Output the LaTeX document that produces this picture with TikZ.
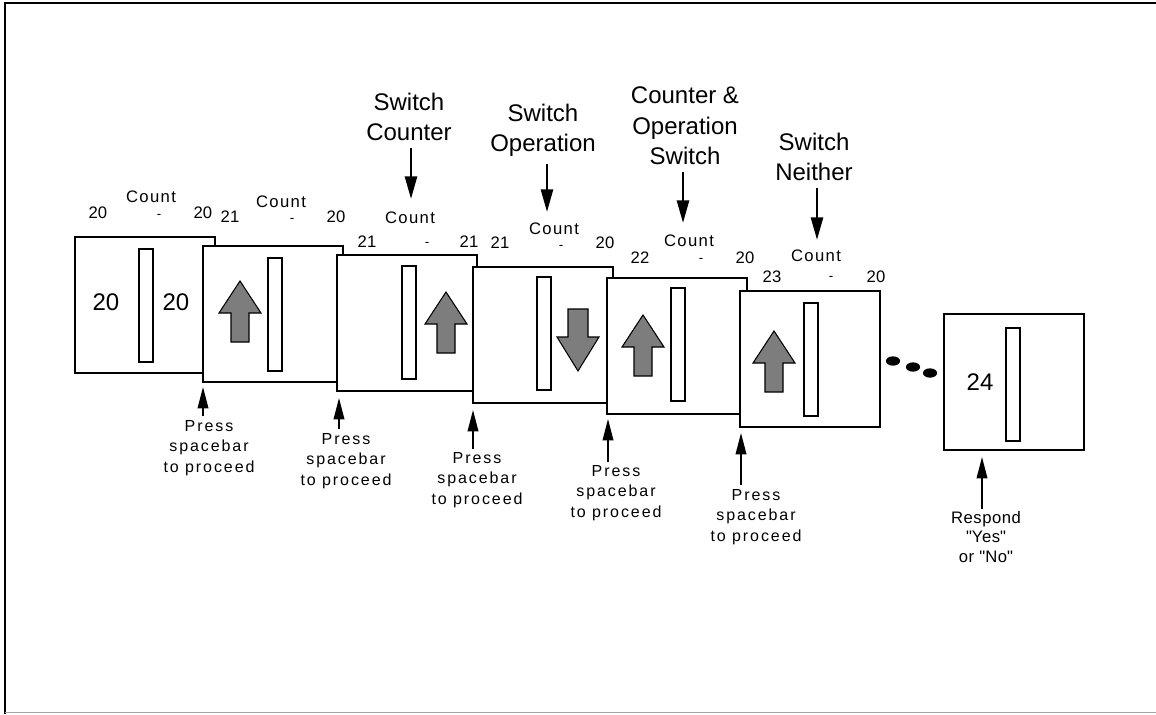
\documentclass[tikz,border=0pt]{standalone}
\usepackage{fontspec}
\setmainfont{Liberation Sans}
\newfontfamily\qfont[Ligatures=TeXOff]{Liberation Sans}
\usetikzlibrary{arrows.meta}
\definecolor{arrgray}{RGB}{125,125,125}
\newcommand{\sq}{{\qfont\symbol{34}}}
\begin{document}
\begin{tikzpicture}[x=0.75pt,y=-0.75pt,
  screen/.style={draw, fill=white, line width=1.2pt, minimum width=105pt, minimum height=102pt, anchor=north west, inner sep=0pt, outer sep=0pt},
  slot/.style={draw, fill=white, line width=1pt, minimum width=10.5pt, minimum height=84.75pt, anchor=north west, inner sep=0pt, outer sep=0pt},
  bignum/.style={font=\fontsize{18pt}{20pt}\selectfont, inner sep=0pt},
  cnt/.style={font=\fontsize{12.5pt}{14pt}\selectfont\addfontfeature{LetterSpace=8}, inner sep=0pt},
  smallnum/.style={font=\fontsize{12.5pt}{14pt}\selectfont, inner sep=0pt},
  dashlbl/.style={font=\fontsize{10pt}{12pt}\selectfont, inner sep=0pt},
  toplabel/.style={font=\fontsize{18pt}{23pt}\selectfont, align=center, inner sep=0pt, anchor=north},
  presslabel/.style={font=\fontsize{12pt}{15.4pt}\selectfont\addfontfeature{LetterSpace=12}, align=center, inner sep=0pt, anchor=north},
  resplabel/.style={font=\fontsize{12.5pt}{14.5pt}\selectfont\addfontfeature{LetterSpace=3}, align=center, inner sep=0pt, anchor=north},
  downarr/.style={line width=2pt, -{Triangle[length=17pt,width=9pt]}},
  uparr/.style={line width=1.1pt, -{Triangle[length=16pt,width=8pt]}},
  blockfill/.style={draw=black, fill=arrgray, line width=0.8pt},
  blockup/.pic={\draw[blockfill] (0,0) -- (21,32) -- (9,32) -- (9,61) -- (-9,61) -- (-9,32) -- (-21,32) -- cycle;},
  blockdown/.pic={\draw[blockfill] (-10,0) -- (10,0) -- (10,28) -- (21,28) -- (0,62) -- (-21,28) -- (-10,28) -- cycle;}
]
\useasboundingbox[fill=white] (0,0) rectangle (1156,714);
\draw[line width=1.5pt] (5,714) -- (5,3) -- (1156,3);
\draw[black!35, line width=1pt] (5,712.5) -- (1156,712.5);

% screen 1
\node[screen] (s1) at (75,237) {};
\node[slot] (b1) at (139,249) {};
\node[bignum] (n1a) at (106,302) {20};
\node[bignum] (n1b) at (176,302) {20};
% screen 2
\node[screen] (s2) at (203,246) {};
\node[slot] (b2) at (268,258) {};
\pic at (240,281) {blockup};
% screen 3
\node[screen] (s3) at (337,255) {};
\node[slot] (b3) at (402,266) {};
\pic at (446,292) {blockup};
% screen 4
\node[screen] (s4) at (473,267) {};
\node[slot] (b4) at (537,277) {};
\pic at (578,309) {blockdown};
% screen 5
\node[screen] (s5) at (607,278) {};
\node[slot] (b5) at (671,288) {};
\pic at (643,315) {blockup};
% screen 6
\node[screen] (s6) at (740,291) {};
\node[slot] (b6) at (804,303) {};
\pic at (774,331) {blockup};
% screen 7
\node[screen] (s7) at (944,314) {};
\node[slot] (b7) at (1006,328) {};
\node[bignum] (n7) at (980,382) {24};

% ellipsis dots
\fill (893,361) ellipse [x radius=5.3pt, y radius=3.5pt];
\fill (913,367) ellipse [x radius=5.3pt, y radius=3.5pt];
\fill (930,373) ellipse [x radius=5.3pt, y radius=3.5pt];

% count groups
\node[smallnum] (c1l) at (98,213) {20};
\node[cnt] (c1) at (151,197) {Count};
\node[dashlbl] (c1d) at (159,216) {-};
\node[smallnum] (c1r) at (203,213) {20};

\node[smallnum] (c2l) at (230,217) {21};
\node[cnt] (c2) at (281,202) {Count};
\node[dashlbl] (c2d) at (292,220) {-};
\node[smallnum] (c2r) at (336,217) {20};

\node[smallnum] (c3l) at (367,242) {21};
\node[cnt] (c3) at (410,218) {Count};
\node[dashlbl] (c3d) at (427,244) {-};
\node[smallnum] (c3r) at (469,242) {21};

\node[smallnum] (c4l) at (500,243) {21};
\node[cnt] (c4) at (554,229) {Count};
\node[dashlbl] (c4d) at (561,247) {-};
\node[smallnum] (c4r) at (605,243) {20};

\node[smallnum] (c5l) at (640,258) {22};
\node[cnt] (c5) at (689,241) {Count};
\node[dashlbl] (c5d) at (701,260) {-};
\node[smallnum] (c5r) at (745,258) {20};

\node[smallnum] (c6l) at (772,277) {23};
\node[cnt] (c6) at (816,256) {Count};
\node[dashlbl] (c6d) at (831,278) {-};
\node[smallnum] (c6r) at (876,277) {20};

% top labels and arrows
\node[toplabel] (t1) at (409,92.5) {Switch\\Counter};
\node[toplabel] (t2) at (543,103.5) {Switch\\Operation};
\node[toplabel] (t3) at (685,86.5) {Counter \&\\Operation\\Switch};
\node[toplabel] (t4) at (814,132.5) {Switch\\Neither};
\coordinate (d1) at (411,199);
\coordinate (d2) at (547,212);
\coordinate (d3) at (683,223);
\coordinate (d4) at (817,240);
\draw[downarr] (t1.south -| d1) ++(0,7) -- (d1);
\draw[downarr] (t2.south -| d2) ++(0,7) -- (d2);
\draw[downarr] (t3.south -| d3) ++(0,7) -- (d3);
\draw[downarr] (t4.south -| d4) ++(0,7) -- (d4);

% bottom labels and arrows
\node[presslabel] (p1) at (209,420) {Press\\spacebar\\to proceed};
\node[presslabel] (p2) at (346,433) {Press\\spacebar\\to proceed};
\node[presslabel] (p3) at (477,452) {Press\\spacebar\\to proceed};
\node[presslabel] (p4) at (616,465) {Press\\spacebar\\to proceed};
\node[presslabel] (p5) at (756,489) {Press\\spacebar\\to proceed};
\node[resplabel] (r7) at (986,511) {Respond\\\sq Yes\sq\\or \sq No\sq};
\coordinate (a1) at (203,387);
\coordinate (a2) at (339,398);
\coordinate (a3) at (473,410);
\coordinate (a4) at (608,419);
\coordinate (a5) at (741,433);
\coordinate (a7) at (982,457);
\draw[uparr] (p1.north -| a1) ++(0,-4) -- (a1);
\draw[uparr] (p2.north -| a2) ++(0,-4) -- (a2);
\draw[uparr] (p3.north -| a3) ++(0,-3) -- (a3);
\draw[uparr] (p4.north -| a4) ++(0,-3) -- (a4);
\draw[uparr] (p5.north -| a5) ++(0,-4) -- (a5);
\draw[uparr] (r7.north -| a7) ++(0,-2) -- (a7);
\end{tikzpicture}
\end{document}
